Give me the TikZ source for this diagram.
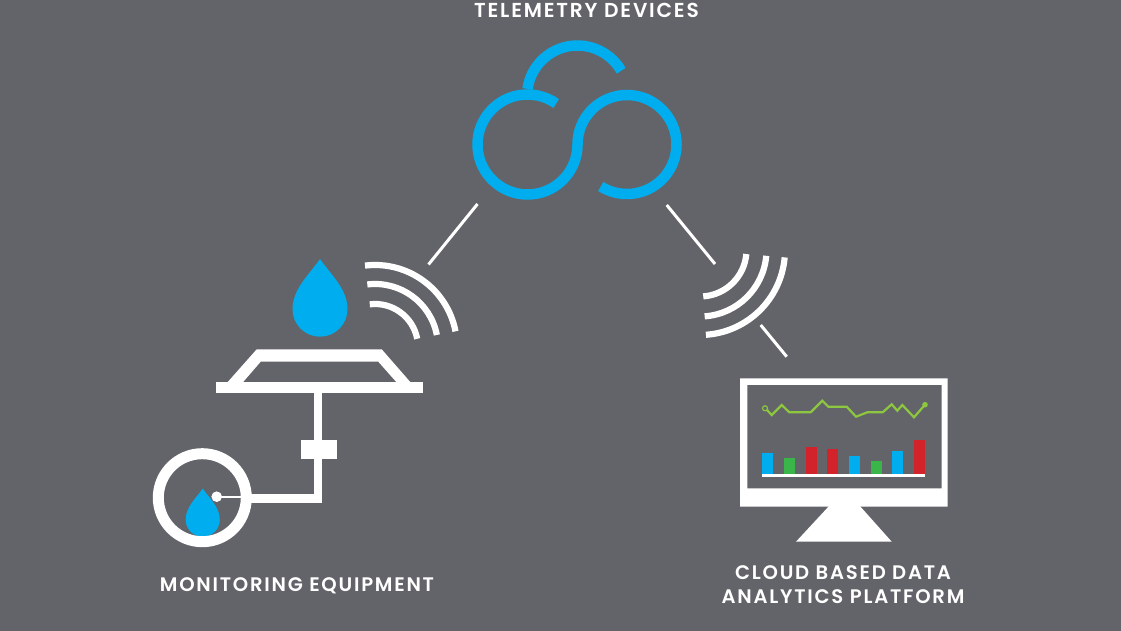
\documentclass[tikz,border=0pt]{standalone}
\usepackage{fontspec}
\setmainfont{Poppins}[BoldFont={Poppins SemiBold},LetterSpace=9]
\definecolor{slategrey}{HTML}{636469}
\definecolor{dropblue}{HTML}{00AEEF}
\definecolor{barred}{HTML}{D2232A}
\definecolor{bargreen}{HTML}{39B54A}
\definecolor{linegreen}{HTML}{8DC63F}

\begin{document}
\begin{tikzpicture}[
  x=1pt, y=1pt,
  caption/.style={text=white, align=center, inner sep=0pt, font=\fontsize{19.6}{24}\selectfont\bfseries},
  cloudline/.style={draw=dropblue, line width=10.5pt},
  wave/.style={draw=white, line width=6.2pt},
  link/.style={draw=white, line width=3pt},
  pipe/.style={draw=white, line width=8.4pt},
  waterdrop/.pic={
    \fill[dropblue] (0,77.7) .. controls (10,63) and (27.5,48) .. (27.5,27.5)
      arc[start angle=0, end angle=-180, radius=27.5]
      .. controls (-27.5,48) and (-10,63) .. (0,77.7) -- cycle;
  }
]
  \fill[slategrey] (0,0) rectangle (1121,631);
  \useasboundingbox (0,0) rectangle (1121,631);

  % Captions
  \node[caption, font=\fontsize{20.2}{24}\selectfont\bfseries] (telemetry) at (586.5,620.5) {TELEMETRY DEVICES};
  \node[caption] (monitoring) at (297,45) {MONITORING EQUIPMENT};
  \node[caption] (platform) at (843,46) {CLOUD BASED DATA\\ANALYTICS PLATFORM};

  % Cloud
  \draw[cloudline] (527.5,486.5) ++(55:50pt) arc[start angle=55, end angle=360, radius=50pt]
    arc[start angle=180, end angle=-122, radius=49.5pt];
  \draw[cloudline] (577.5,535) ++(172:50.5pt) arc[start angle=172, end angle=30, radius=50.5pt];

  % Links
  \coordinate (linkAa) at (428.5,366.5);
  \coordinate (linkAb) at (477.5,427);
  \coordinate (linkBa) at (666.7,426);
  \coordinate (linkBb) at (715,367);
  \coordinate (linkCa) at (760.7,306);
  \coordinate (linkCb) at (786.7,274.3);
  \draw[link] (linkAa) -- (linkAb);
  \draw[link] (linkBa) -- (linkBb);
  \draw[link] (linkCa) -- (linkCb);

  % Signal waves
  \foreach \r in {43,63,82}
    \draw[wave] (375,284) ++(97:\r pt) arc[start angle=97, end angle=11, radius=\r pt];
  \foreach \r in {46.5,66.5,85}
    \draw[wave] (700,381) ++(-5:\r pt) arc[start angle=-5, end angle=-86, radius=\r pt];

  % Monitoring equipment
  \pic at (320,294.3) {waterdrop};
  \fill[white, even odd rule] (227.3,248.5) -- (256.7,281.7) -- (381.7,281.7) -- (410.7,248.5) -- cycle
    (242.7,248.5) -- (260.7,269.3) -- (378.3,269.3) -- (396.7,248.5) -- cycle;
  \fill[white] (216,237.7) rectangle (422.7,248.7);
  \draw[pipe] (318.2,238) -- (318.2,128.3);
  \draw[pipe] (250,132.6) -- (322.4,132.6);
  \fill[white] (301.3,171.7) rectangle (336.7,190.7);
  \pic[scale=0.62] at (202.7,94.3) {waterdrop};
  \draw[white, line width=11pt] (202.3,133.3) circle (44pt);
  \fill[white] (216.7,134.3) circle (5.3pt);
  \draw[white, line width=1.7pt] (216.7,134.3) -- (246,134.3);

  % Monitor
  \fill[white, even odd rule] (740,124.3) rectangle (947.7,252.7)
    (747.3,142.7) rectangle (941.7,246);
  \fill[white] (830,126) -- (859,126) -- (891.7,89.3) -- (796,89.3) -- cycle;
  \foreach \x/\h/\c in {762.3/177.7/dropblue, 784.3/173.3/bargreen, 806/184.3/barred, 827.3/182.3/barred,
                        849/175.3/dropblue, 870.7/170/bargreen, 892/180/dropblue, 914/191/barred}
    \fill[\c] (\x,157) rectangle (\x+11,\h);
  \fill[white] (762.3,154.3) rectangle (925,157);
  \draw[linegreen, line width=2.2pt] (767,221) -- (771.7,216) -- (781.7,226) -- (789.3,218.7) -- (810.7,218.7)
    -- (822.3,230.3) -- (828.3,224.3) -- (846.7,224.3) -- (856,214.3) -- (867.3,218.7) -- (882.7,218.7)
    -- (891.7,226.7) -- (897.3,220.3) -- (902.3,226) -- (914,213.7) -- (925,226.3);
  \draw[linegreen, line width=1.2pt] (765,222.7) circle (2.5pt);
  \fill[linegreen] (925,226.3) circle (2.8pt);
\end{tikzpicture}
\end{document}
